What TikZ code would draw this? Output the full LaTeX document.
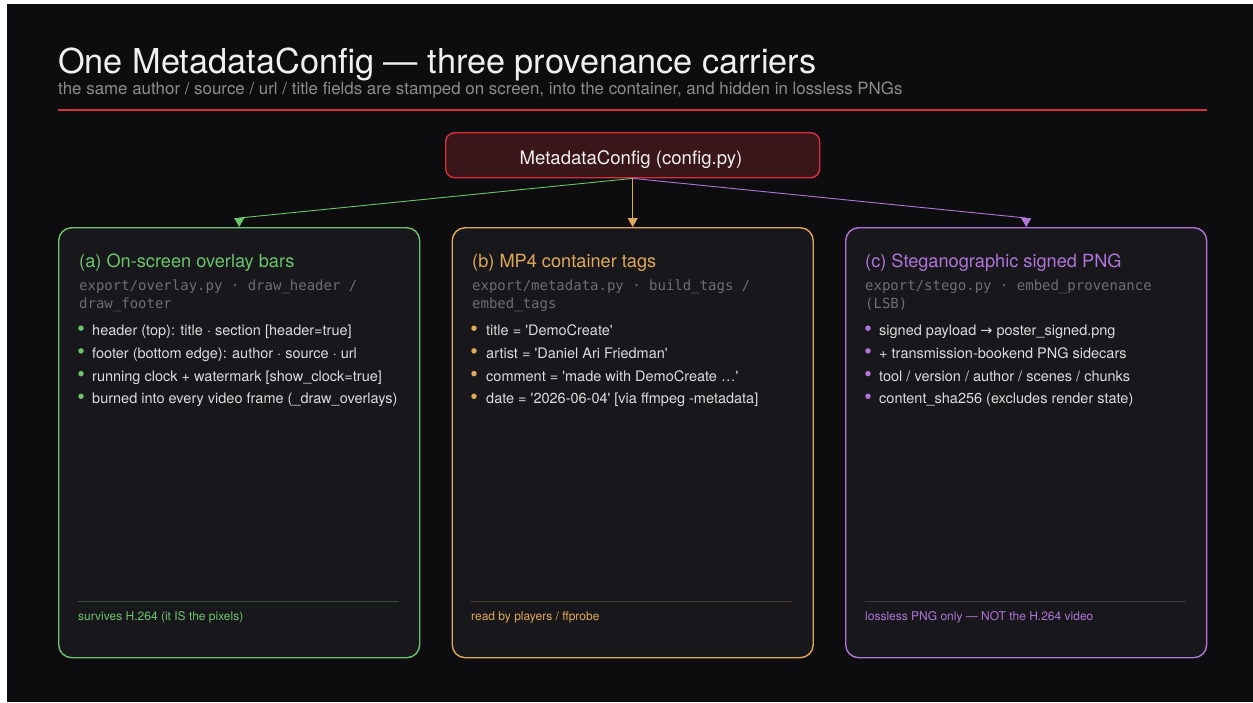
\documentclass[tikz,border=0pt]{standalone}
\usepackage{fontspec}
\setmainfont{TeX Gyre Heros}
\setmonofont{DejaVu Sans Mono}
\newfontfamily\symfont{DejaVu Sans}
\usetikzlibrary{arrows.meta,calc}
\definecolor{bgdark}{HTML}{0D0D0F}
\definecolor{boxfill}{HTML}{18181C}
\definecolor{cgreen}{HTML}{6CC46C}
\definecolor{corange}{HTML}{E0A85A}
\definecolor{cpurple}{HTML}{B274DA}
\definecolor{cred}{HTML}{D6303A}
\definecolor{cfgfill}{HTML}{3A1519}
\definecolor{subgray}{HTML}{8C8C8C}
\definecolor{monogray}{HTML}{6E6E72}
\definecolor{bodytext}{HTML}{DCDCDC}
\definecolor{titlewhite}{HTML}{F0F0F0}
\definecolor{sepgreen}{HTML}{34503A}
\definecolor{seporange}{HTML}{4C4032}
\definecolor{seppurple}{HTML}{42334E}
\newcommand{\sq}{\textquotesingle}
\tikzset{
  card/.style={draw, line width=1.4pt, rounded corners=13pt, fill=boxfill, anchor=north west,
    minimum width=361pt, minimum height=430pt, inner sep=0pt},
  cardtitle/.style={anchor=base west, inner sep=0pt, font=\fontsize{18.2}{21}\selectfont},
  monoline/.style={anchor=base west, inner sep=0pt, text=monogray, font=\ttfamily\fontsize{14}{16}\selectfont},
  bullettext/.style={anchor=base west, inner sep=0pt, text=bodytext, font=\fontsize{14.5}{17}\selectfont},
  bulletdot/.style={circle, inner sep=0pt, minimum size=5.5pt},
  footertext/.style={anchor=base west, inner sep=0pt, font=\fontsize{12}{14}\selectfont},
  link/.style={line width=0.9pt},
  tip/.style={line width=0.9pt, -{Triangle[width=10pt,length=9pt]}},
}
\begin{document}
\begin{tikzpicture}[x=1pt,y=-1pt]
\useasboundingbox (0,0) rectangle (1253,702);
\fill[white] (0,0) rectangle (1253,702);
\fill[bgdark] (7,4) rectangle (1253,702);
% header
\node[anchor=base west, inner sep=0pt, text=titlewhite, font=\fontsize{34.3}{40}\selectfont] (title) at (58,73) {One MetadataConfig — three provenance carriers};
\node[anchor=base west, inner sep=0pt, text=subgray, font=\fontsize{16.9}{19}\selectfont] (subtitle) at (58,94.5) {the same author / source / url / title fields are stamped on screen, into the container, and hidden in lossless PNGs};
\draw[cred, line width=2.2pt] (58,110) -- (1207,110);
% config node
\node[draw=cred, line width=1.4pt, fill=cfgfill, rounded corners=9pt, anchor=north west, minimum width=374pt, minimum height=45pt, inner sep=0pt] (cfg) at (445,132) {};
\node[anchor=base, inner sep=0pt, text=titlewhite, font=\fontsize{18.6}{21}\selectfont] (cfgtext) at (631,164) {MetadataConfig (config.py)};
% cards
\node[card, draw=cgreen] (boxa) at (58,227) {};
\node[card, draw=corange] (boxb) at (451.5,227) {};
\node[card, draw=cpurple] (boxc) at (845,227) {};
% connectors
\foreach \b/\c in {boxa/cgreen, boxb/corange, boxc/cpurple}{
  \coordinate (\b-in) at ($(\b.north)+(0,-9)$);
  \draw[link, \c] (cfg.south) -- (\b-in);
  \draw[tip, \c] (\b-in) -- (\b.north);
}
% card a
\node[cardtitle, text=cgreen] (ta) at (79,267) {(a) On-screen overlay bars};
\node[monoline] (ma1) at (79,290) {export/overlay.py · draw\_header /};
\node[monoline] (ma2) at (79,308) {draw\_footer};
\foreach \t [count=\i] in {{header (top): title · section [header=true]},{footer (bottom edge): author · source · url},{running clock + watermark [show\_clock=true]},{burned into every video frame (\_draw\_overlays)}}{
  \node[bulletdot, fill=cgreen] (da\i) at (81,305.5+22.7*\i) {};
  \node[bullettext] (ba\i) at (92,313+22.7*\i) {\t};
}
\draw[sepgreen, line width=1pt] (78,601) -- (399,601);
\node[footertext, text=cgreen] (fa) at (78,620) {survives H.264 (it IS the pixels)};
% card b
\node[cardtitle, text=corange] (tb) at (472,267) {(b) MP4 container tags};
\node[monoline] (mb1) at (472,290) {export/metadata.py · build\_tags /};
\node[monoline] (mb2) at (472,308) {embed\_tags};
\foreach \t [count=\i] in {{title = \sq DemoCreate\sq},{artist = \sq Daniel Ari Friedman\sq},{comment = \sq made with DemoCreate …\sq},{date = \sq 2026-06-04\sq\ [via ffmpeg -metadata]}}{
  \node[bulletdot, fill=corange] (db\i) at (474,305.5+22.7*\i) {};
  \node[bullettext] (bb\i) at (486,313+22.7*\i) {\t};
}
\draw[seporange, line width=1pt] (471,601) -- (792,601);
\node[footertext, text=corange] (fb) at (471,620) {read by players / ffprobe};
% card c
\node[cardtitle, text=cpurple] (tc) at (865,267) {(c) Steganographic signed PNG};
\node[monoline] (mc1) at (865,290) {export/stego.py · embed\_provenance};
\node[monoline] (mc2) at (865,308) {(LSB)};
\foreach \t [count=\i] in {{signed payload {\symfont →} poster\_signed.png},{+ transmission-bookend PNG sidecars},{tool / version / author / scenes / chunks},{content\_sha256 (excludes render state)}}{
  \node[bulletdot, fill=cpurple] (dc\i) at (868,305.5+22.7*\i) {};
  \node[bullettext] (bc\i) at (879,313+22.7*\i) {\t};
}
\draw[seppurple, line width=1pt] (865,601) -- (1186,601);
\node[footertext, text=cpurple] (fc) at (865,620) {lossless PNG only — NOT the H.264 video};
\end{tikzpicture}
\end{document}
